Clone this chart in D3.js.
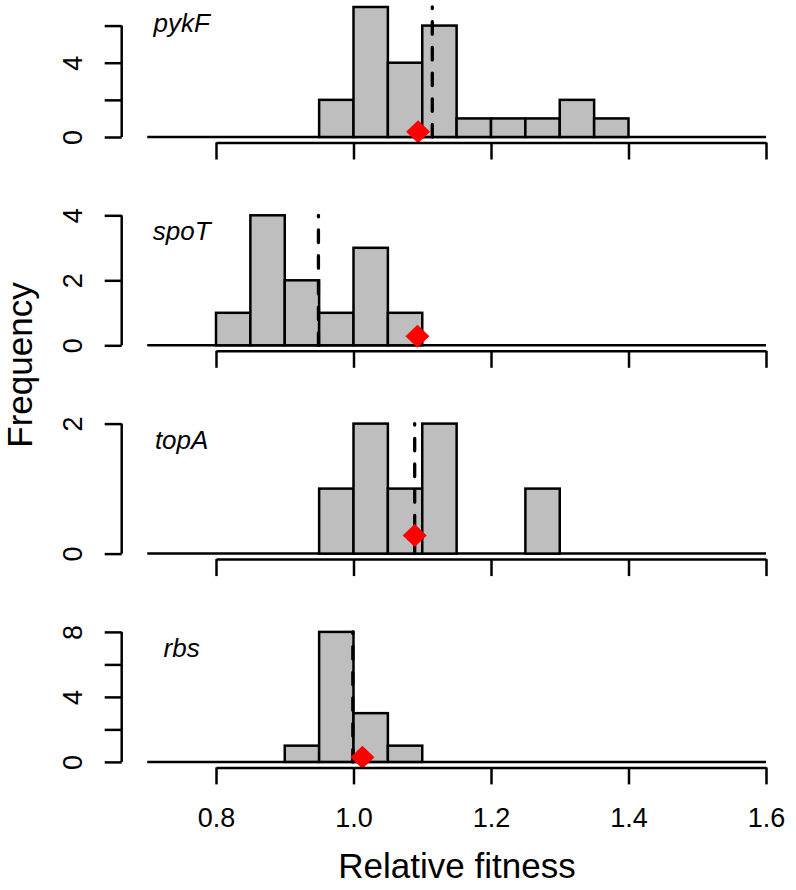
<!DOCTYPE html>
<html>
<head>
<meta charset="utf-8">
<script src="https://cdn.jsdelivr.net/npm/d3@7"></script>
<style>
    body { margin: 0; background: #fff; }
    svg { display: block; font-family: 'Liberation Sans', Arial, Helvetica, sans-serif; }
</style>
</head>
<body>
<script>
// Data
const genes = ['pykF', 'spoT', 'topA', 'rbs'];
const binStarts = [0.80, 0.85, 0.90, 0.95, 1.00, 1.05, 1.10, 1.15, 1.20, 1.25, 1.30, 1.35];
const binWidth = 0.05;
const pykFCounts = [0, 0, 0, 2, 7, 4, 6, 1, 1, 1, 2, 1];
const spoTCounts = [1, 4, 2, 1, 3, 1, 0, 0, 0, 0, 0, 0];
const topACounts = [0, 0, 0, 1, 2, 1, 2, 0, 0, 1, 0, 0];
const rbsCounts = [0, 0, 1, 8, 3, 1, 0, 0, 0, 0, 0, 0];
const allCounts = [pykFCounts, spoTCounts, topACounts, rbsCounts];
const dashedAt = [1.1146, 0.949, 1.089, 0.999];
const diamondAt = [1.094, 1.093, 1.089, 1.013];
const diamondY = 0.28;
const yMax = [7, 4, 2, 8];
const yTicks = [[0, 2, 4, 6], [0, 2, 4], [0, 2], [0, 2, 4, 6, 8]];
const yTickLabels = [[0, 4], [0, 2, 4], [0, 2], [0, 4, 8]];
const xTicks = [0.8, 1.0, 1.2, 1.4, 1.6];

const width = 796;
const height = 890;
const panelTop = 7;
const panelStep = 208.3;
const plotHeight = 130;
const yAxisX = 121.7;
const lw = 2.5;

const xScale = d3.scaleLinear().domain([0.8, 1.6]).range([216, 766]);

// Define svg
const svg = d3
    .select('body')
    .append('svg')
    .attr('width', width)
    .attr('height', height);

genes.forEach((gene, i) => {
    const zero = panelTop + i * panelStep + plotHeight;
    const yScale = d3.scaleLinear().domain([0, yMax[i]]).range([zero, zero - plotHeight]);
    const g = svg.append('g');
    const bins = binStarts
        .map((x0, j) => ({ x0: x0, count: allCounts[i][j] }))
        .filter(d => d.count > 0);

    // Baseline from 0.7 to 1.6
    g.append('line')
        .attr('x1', xScale(0.7))
        .attr('x2', xScale(1.6))
        .attr('y1', zero)
        .attr('y2', zero)
        .attr('stroke', '#000')
        .attr('stroke-width', lw);

    // Set bars
    g.selectAll('rect')
        .data(bins)
        .enter()
        .append('rect')
        .attr('x', d => xScale(d.x0))
        .attr('width', d => xScale(d.x0 + binWidth) - xScale(d.x0))
        .attr('y', d => yScale(d.count))
        .attr('height', d => zero - yScale(d.count))
        .attr('fill', '#bebebe')
        .attr('stroke', '#000')
        .attr('stroke-width', lw);

    // Dashed line
    g.append('line')
        .attr('x1', xScale(dashedAt[i]))
        .attr('x2', xScale(dashedAt[i]))
        .attr('y1', yScale(0))
        .attr('y2', yScale(yMax[i]))
        .attr('stroke', '#000')
        .attr('stroke-width', 3.3)
        .attr('stroke-linecap', 'round')
        .attr('stroke-dasharray', '12.5,13.2');

    // Red diamond
    const dx = xScale(diamondAt[i]);
    const dy = yScale(diamondY);
    g.append('path')
        .attr('d', `M${dx},${dy - 11.5}L${dx + 12},${dy}L${dx},${dy + 11.5}L${dx - 12},${dy}Z`)
        .attr('fill', '#ff0000');

    // Gene label
    g.append('text')
        .attr('x', xScale(0.75))
        .attr('y', zero - 105)
        .attr('text-anchor', 'middle')
        .style('font-size', '26px')
        .style('font-style', 'italic')
        .text(gene);

    // Set y-axis
    const yAxis = g.append('g')
        .attr('transform', `translate(${yAxisX}, 0)`)
        .call(d3.axisLeft(yScale)
            .tickValues(yTicks[i])
            .tickSize(17)
            .tickSizeOuter(0)
            .tickFormat(d => yTickLabels[i].includes(d) ? d : ''));
    yAxis.select('.domain').remove();
    yAxis.append('line')
        .attr('x1', 0)
        .attr('x2', 0)
        .attr('y1', yScale(0))
        .attr('y2', yScale(d3.max(yTicks[i])))
        .attr('stroke', '#000');
    yAxis.selectAll('line').attr('stroke-width', lw);
    yAxis.selectAll('text')
        .attr('x', 0)
        .attr('dy', 0)
        .attr('text-anchor', 'middle')
        .attr('transform', 'translate(-40, 0) rotate(-90)')
        .attr('fill', '#000')
        .style('font-size', '27px')
        .style('font-family', "'Liberation Sans', Arial, sans-serif");

    // Set x-axis
    const xAxis = g.append('g')
        .attr('transform', `translate(0, ${zero + 5.5})`)
        .call(d3.axisBottom(xScale)
            .tickValues(xTicks)
            .tickSize(17)
            .tickSizeOuter(0)
            .tickFormat(i === genes.length - 1 ? d3.format('.1f') : () => ''));
    xAxis.select('.domain').attr('stroke-width', lw);
    xAxis.selectAll('line').attr('stroke-width', lw);
    xAxis.selectAll('text')
        .attr('y', 0)
        .attr('dy', 0)
        .attr('transform', `translate(0, ${827 - zero - 5.5})`)
        .attr('fill', '#000')
        .style('font-size', '27px')
        .style('font-family', "'Liberation Sans', Arial, sans-serif");
});

// Axis titles
svg.append('text')
    .attr('x', 457)
    .attr('y', 878)
    .attr('text-anchor', 'middle')
    .style('font-size', '35px')
    .text('Relative fitness');

svg.append('text')
    .attr('transform', 'translate(32, 365) rotate(-90)')
    .attr('text-anchor', 'middle')
    .style('font-size', '35px')
    .text('Frequency');
</script>
</body>
</html>
